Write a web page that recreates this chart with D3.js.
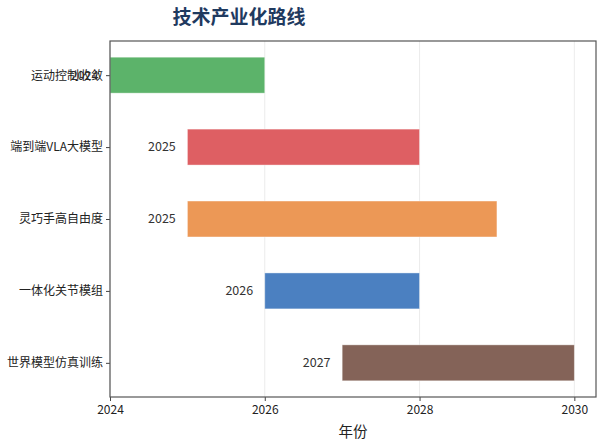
<!DOCTYPE html>
<html>
<head>
<meta charset="utf-8">
<script src="https://cdn.jsdelivr.net/npm/d3@7"></script>
<style>
  body { margin: 0; background: #fff; }
  svg { font-family: "Noto Sans CJK SC", "Noto Sans", sans-serif; }
</style>
</head>
<body>
<script>
// ===================================================================

const WIDTH = 605
const HEIGHT = 446

const MARGIN = { top: 41, right: 9, bottom: 49, left: 110 }

const TITLE = '技术产业化路线'
const X_LABEL = '年份'

const TASKS = [ '运动控制收敛', '端到端VLA大模型', '灵巧手高自由度', '一体化关节模组', '世界模型仿真训练' ]
const STARTS = [ 2024, 2025, 2025, 2026, 2027 ]
const ENDS = [ 2026, 2028, 2029, 2028, 2030 ]
const COLORS = [ '#5cb36a', '#de5f63', '#ec9856', '#4b80c1', '#846358' ]

const X_TICKS = [ 2024, 2026, 2028, 2030 ]

// ===================================================================

const width = WIDTH - MARGIN.left - MARGIN.right
const height = HEIGHT - MARGIN.top - MARGIN.bottom

const x = d3.scaleLinear()
  .domain([ 2024, 2030.28 ])
  .range([ 0, width ])

// matplotlib-like barh layout: rows at 0..n-1, bar height 0.5, 5% margins
const n = TASKS.length
const pad = (n - 1 + 0.5) * 0.05 + 0.25
const y = d3.scaleLinear()
  .domain([ -pad, n - 1 + pad ])
  .range([ 0, height ])
const barH = y(0.5) - y(0)

const svg = d3.select('body')
  .append('svg')
    .attr('width', WIDTH)
    .attr('height', HEIGHT)

svg.append('text')
  .attr('x', 239)
  .attr('y', 24)
  .attr('text-anchor', 'middle')
  .attr('font-size', 19)
  .attr('font-weight', 'bold')
  .attr('fill', '#1f3a5f')
  .text(TITLE)

const g = svg.append('g')
  .attr('transform', `translate(${MARGIN.left}, ${MARGIN.top})`)

// grid
g.append('g')
  .selectAll('line')
  .data(X_TICKS)
  .join('line')
    .attr('x1', d => x(d))
    .attr('x2', d => x(d))
    .attr('y1', 0)
    .attr('y2', height)
    .attr('stroke', '#e6e6e6')
    .attr('stroke-width', 0.8)

// bars
g.append('g')
  .selectAll('rect')
  .data(TASKS)
  .join('rect')
    .attr('x', (d, i) => x(STARTS[i]))
    .attr('y', (d, i) => y(i) - barH / 2)
    .attr('width', (d, i) => x(ENDS[i]) - x(STARTS[i]))
    .attr('height', barH)
    .attr('fill', (d, i) => COLORS[i])
    .attr('stroke', 'rgba(255,255,255,0.5)')
    .attr('stroke-width', 0.8)

// start year labels
g.append('g')
  .selectAll('text')
  .data(TASKS)
  .join('text')
    .attr('x', (d, i) => x(STARTS[i] - 0.15))
    .attr('y', (d, i) => y(i))
    .attr('dy', '0.35em')
    .attr('text-anchor', 'end')
    .attr('font-size', 12.5)
    .attr('fill', '#333')
    .text((d, i) => STARTS[i])

// axes
const xAxis = g.append('g')
  .attr('transform', `translate(0, ${height})`)
  .call(d3.axisBottom(x).tickValues(X_TICKS).tickFormat(d3.format('d')).tickSize(4).tickPadding(4))

const yAxis = g.append('g')
  .call(d3.axisLeft(y).tickValues(d3.range(n)).tickFormat(i => TASKS[i]).tickSize(4).tickPadding(3))

for (const axis of [ xAxis, yAxis ]) {
  axis.select('.domain').remove()
  axis.selectAll('line').attr('stroke', '#444')
  axis.selectAll('text').attr('font-size', 12).attr('fill', '#222')
    .attr('font-family', '"Noto Sans CJK SC", "Noto Sans", sans-serif')
}

// frame
g.append('rect')
  .attr('width', width)
  .attr('height', height)
  .attr('fill', 'none')
  .attr('stroke', '#555')
  .attr('stroke-width', 1.2)

svg.append('text')
  .attr('x', MARGIN.left + width / 2)
  .attr('y', 437)
  .attr('text-anchor', 'middle')
  .attr('font-size', 14.5)
  .attr('fill', '#222')
  .text(X_LABEL)
</script>
</body>
</html>
